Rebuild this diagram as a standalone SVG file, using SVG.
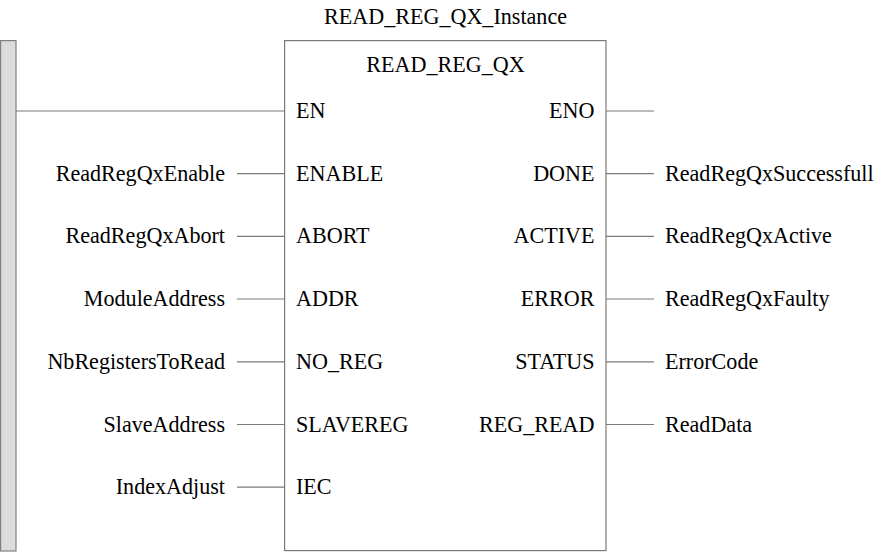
<svg xmlns="http://www.w3.org/2000/svg" width="875" height="552" viewBox="0 0 875 552">
<style>
text{font-family:"Liberation Serif","Times New Roman",serif;font-size:22.1px;fill:#000}
.r{text-anchor:end}
.m{text-anchor:middle}
.w{stroke:#7a7a7a;stroke-width:1.2;fill:none}
</style>
<rect width="875" height="552" fill="#fff"/>
<g id="rail">
<rect x="0.6" y="40.6" width="15.4" height="510.4" fill="#dcdcdc" stroke="#808080" stroke-width="1.2"/>
</g>
<g id="connectors">
<line class="w" x1="16" y1="111" x2="284" y2="111"/>
<line class="w" x1="237" y1="173.7" x2="284" y2="173.7"/>
<line class="w" x1="237" y1="236.4" x2="284" y2="236.4"/>
<line class="w" x1="237" y1="299" x2="284" y2="299"/>
<line class="w" x1="237" y1="361.8" x2="284" y2="361.8"/>
<line class="w" x1="237" y1="424.5" x2="284" y2="424.5"/>
<line class="w" x1="237" y1="487.2" x2="284" y2="487.2"/>
<line class="w" x1="606" y1="111" x2="654" y2="111"/>
<line class="w" x1="606" y1="173.7" x2="654" y2="173.7"/>
<line class="w" x1="606" y1="236.4" x2="654" y2="236.4"/>
<line class="w" x1="606" y1="299" x2="654" y2="299"/>
<line class="w" x1="606" y1="361.8" x2="654" y2="361.8"/>
<line class="w" x1="606" y1="424.5" x2="654" y2="424.5"/>
</g>
<g id="block">
<text class="m" x="445.5" y="23.5">READ_REG_QX_Instance</text>
<rect class="w" x="284.6" y="40.6" width="321.4" height="510" fill="#fff"/>
<text class="m" x="445.5" y="72">READ_REG_QX</text>
<text x="296" y="118">EN</text>
<text x="296" y="180.7">ENABLE</text>
<text x="296" y="243.4">ABORT</text>
<text x="296" y="306">ADDR</text>
<text x="296" y="368.8">NO_REG</text>
<text x="296" y="431.5">SLAVEREG</text>
<text x="296" y="494.2">IEC</text>
<text class="r" x="594.5" y="118">ENO</text>
<text class="r" x="594.5" y="180.7">DONE</text>
<text class="r" x="594.5" y="243.4">ACTIVE</text>
<text class="r" x="594.5" y="306">ERROR</text>
<text class="r" x="594.5" y="368.8">STATUS</text>
<text class="r" x="594.5" y="431.5">REG_READ</text>
</g>
<g id="inputs">
<text class="r" x="225" y="180.7">ReadRegQxEnable</text>
<text class="r" x="225" y="243.4">ReadRegQxAbort</text>
<text class="r" x="225" y="306">ModuleAddress</text>
<text class="r" x="225" y="368.8">NbRegistersToRead</text>
<text class="r" x="225" y="431.5">SlaveAddress</text>
<text class="r" x="225" y="494.2">IndexAdjust</text>
</g>
<g id="outputs">
<text x="665" y="180.7">ReadRegQxSuccessfull</text>
<text x="665" y="243.4">ReadRegQxActive</text>
<text x="665" y="306">ReadRegQxFaulty</text>
<text x="665" y="368.8">ErrorCode</text>
<text x="665" y="431.5">ReadData</text>
</g>
</svg>
